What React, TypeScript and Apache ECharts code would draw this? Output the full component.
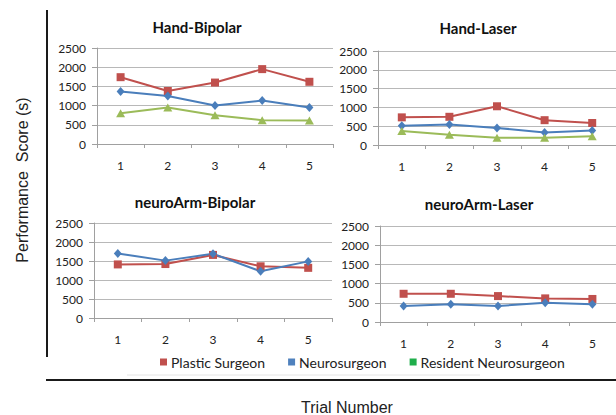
import React, { useEffect, useRef } from "react";
import * as echarts from "echarts";

const categories = ["1", "2", "3", "4", "5"];
const seriesNames = ["Plastic Surgeon", "Neurosurgeon", "Resident Neurosurgeon"];
const panelTitles = ["Hand-Bipolar", "Hand-Laser", "neuroArm-Bipolar", "neuroArm-Laser"];

const handBipolarPlastic = [1740, 1380, 1600, 1950, 1620];
const handBipolarNeuro = [1370, 1250, 1000, 1130, 950];
const handBipolarResident = [800, 950, 750, 620, 610];

const handLaserPlastic = [735, 750, 1030, 660, 585];
const handLaserNeuro = [510, 545, 455, 335, 385];
const handLaserResident = [375, 275, 195, 195, 235];

const neuroArmBipolarPlastic = [1410, 1420, 1660, 1360, 1320];
const neuroArmBipolarNeuro = [1700, 1510, 1690, 1230, 1490];

const neuroArmLaserPlastic = [735, 735, 675, 615, 600];
const neuroArmLaserNeuro = [415, 465, 415, 500, 460];

const yTicks = { min: 0, max: 2500, interval: 500 };

const RED = "#c0504d";
const BLUE = "#4a7ebb";
const GREEN = "#9bbb59";
const GREEN_LEGEND = "#1fae4b";
const GRID_COLOR = "#b8b8b8";
const FONT = "Lato";

// grid boxes (plot areas)
const grids = [
  { left: 97, top: 48, width: 236, height: 96 },
  { left: 378, top: 51, width: 238, height: 94 },
  { left: 94, top: 223, width: 238, height: 95 },
  { left: 380, top: 226, width: 236, height: 96 },
];
const titlePos = [
  { x: 197, y: 28 },
  { x: 478, y: 29 },
  { x: 195, y: 203 },
  { x: 479, y: 205 },
];

const panelData: { name: string; data: number[] }[][] = [
  [
    { name: seriesNames[0], data: handBipolarPlastic },
    { name: seriesNames[1], data: handBipolarNeuro },
    { name: seriesNames[2], data: handBipolarResident },
  ],
  [
    { name: seriesNames[0], data: handLaserPlastic },
    { name: seriesNames[1], data: handLaserNeuro },
    { name: seriesNames[2], data: handLaserResident },
  ],
  [
    { name: seriesNames[0], data: neuroArmBipolarPlastic },
    { name: seriesNames[1], data: neuroArmBipolarNeuro },
  ],
  [
    { name: seriesNames[0], data: neuroArmLaserPlastic },
    { name: seriesNames[1], data: neuroArmLaserNeuro },
  ],
];

const styleFor: Record<string, { color: string; symbol: string; size: number | number[] }> = {
  "Plastic Surgeon": { color: RED, symbol: "rect", size: 8 },
  Neurosurgeon: { color: BLUE, symbol: "diamond", size: [8, 9] },
  "Resident Neurosurgeon": { color: GREEN, symbol: "triangle", size: [9, 8] },
};

export default function App() {
  const ref = useRef<HTMLDivElement>(null);
  useEffect(() => {
    if (!ref.current) return;
    const chart = echarts.init(ref.current, undefined, { renderer: "svg" });

    const xAxis = grids.map((_, i) => ({
      type: "category",
      gridIndex: i,
      data: categories,
      boundaryGap: true,
      axisLine: { show: true, lineStyle: { color: "#a0a0a0", width: 1 } },
      axisTick: { show: true, length: 4, alignWithLabel: false, lineStyle: { color: "#a0a0a0" } },
      axisLabel: { margin: 15, fontSize: 12, color: "#222", fontFamily: FONT },
      splitLine: { show: false },
    }));
    const yAxis = grids.map((_, i) => ({
      type: "value",
      gridIndex: i,
      min: yTicks.min,
      max: yTicks.max,
      interval: yTicks.interval,
      axisLine: { show: true, lineStyle: { color: "#a0a0a0", width: 1 } },
      axisTick: { show: true, inside: false, length: 5, lineStyle: { color: "#a0a0a0" } },
      axisLabel: {
        margin: 11,
        fontSize: 12,
        color: "#222",
        fontFamily: FONT,
        formatter: (v: number) => String(v),
      },
      splitLine: { show: true, lineStyle: { color: GRID_COLOR, width: 1 } },
    }));

    const series: any[] = [];
    panelData.forEach((panel, i) => {
      panel.forEach((s) => {
        const st = styleFor[s.name];
        series.push({
          type: "line",
          name: s.name,
          xAxisIndex: i,
          yAxisIndex: i,
          data: s.data,
          symbol: st.symbol,
          symbolSize: st.size,
          showSymbol: true,
          lineStyle: { color: st.color, width: 2 },
          itemStyle: { color: st.color },
          emphasis: { disabled: true },
        });
      });
    });

    const legendColors = [RED, "#4f81bd", GREEN_LEGEND];

    chart.setOption({
      animation: false,
      textStyle: { fontFamily: FONT },
      title: panelTitles.map((t, i) => ({
        text: t,
        left: titlePos[i].x,
        top: titlePos[i].y - 9,
        textAlign: "center",
        padding: 0,
        textStyle: { fontSize: 15, fontWeight: "bold", color: "#111", fontFamily: FONT },
      })),
      legend: {
        left: 160,
        top: 355,
        icon: "rect",
        itemWidth: 7,
        itemHeight: 7,
        itemGap: 23,
        padding: 0,
        selectedMode: false,
        textStyle: { fontSize: 14, color: "#222", fontFamily: FONT, padding: [0, 0, 0, -1] },
        data: seriesNames.map((n, i) => ({ name: n, itemStyle: { color: legendColors[i] } })),
      },
      grid: grids.map((g) => ({ ...g })),
      xAxis,
      yAxis,
      series,
      graphic: [
        {
          type: "line",
          shape: { x1: 47, y1: 10, x2: 47, y2: 357 },
          style: { stroke: "#1a1a1a", lineWidth: 2 },
        },
        {
          type: "line",
          shape: { x1: 127, y1: 375, x2: 480, y2: 375 },
          style: { stroke: "#e4e4e4", lineWidth: 1 },
        },
        {
          type: "line",
          shape: { x1: 46, y1: 380, x2: 616, y2: 380 },
          style: { stroke: "#1a1a1a", lineWidth: 2 },
        },
        {
          type: "text",
          x: 22,
          y: 180,
          rotation: Math.PI / 2,
          style: {
            text: "Performance  Score (s)",
            fontSize: 16,
            fontFamily: "Liberation Sans",
            fill: "#222",
            textAlign: "center",
            textVerticalAlign: "middle",
          },
        },
        {
          type: "text",
          x: 347,
          y: 407,
          style: {
            text: "Trial Number",
            fontSize: 16,
            fontFamily: "Liberation Sans",
            fill: "#222",
            textAlign: "center",
            textVerticalAlign: "middle",
          },
        },
      ],
    });
    return () => chart.dispose();
  }, []);
  return (
    <div
      ref={ref}
      style={{ position: "fixed", left: 0, top: 0, width: 616, height: 415, background: "#fff" }}
    />
  );
}
